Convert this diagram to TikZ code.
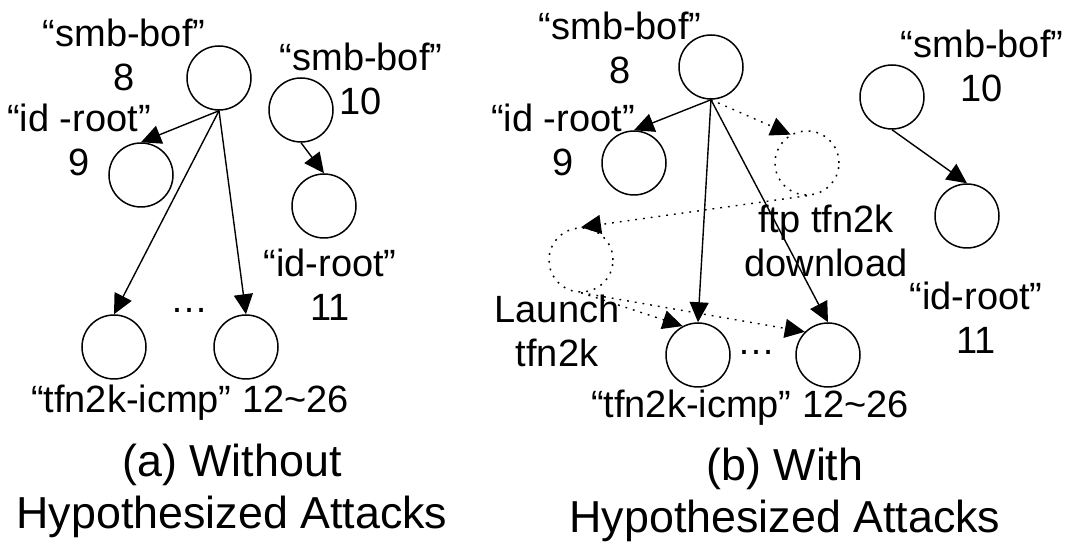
\documentclass[tikz,border=0pt]{standalone}
\usepackage{fontspec}
\setmainfont{Liberation Sans}
\usetikzlibrary{arrows.meta}

\begin{document}
\begin{tikzpicture}[
  x=0.5pt,
  y=-0.5pt
]

  \tikzstyle{alertnode}=[draw,circle,minimum size=32pt,inner sep=0pt,line width=0.75pt]
  \tikzstyle{hypnode}=[alertnode,dash pattern=on 0.9pt off 3pt]
  \tikzstyle{alertlab}=[align=center,inner sep=0pt,font=\fontsize{19}{22}\selectfont]
  \tikzstyle{caplab}=[align=center,inner sep=0pt,font=\fontsize{22.4}{26}\selectfont]
  \tikzstyle{edge}=[draw,-{Triangle[length=10pt,width=9.5pt]},line width=0.7pt]
  \tikzstyle{hypedge}=[edge,dash pattern=on 0.9pt off 3pt]

  \useasboundingbox (0,0) rectangle (1073,549);

  % (a) without hypothesized attacks
  \node[alertnode] (a8)  at (219,78)  {};
  \node[alertnode] (a9)  at (141,175) {};
  \node[alertnode] (a10) at (301,110) {};
  \node[alertnode] (a11) at (324,206) {};
  \node[alertnode] (a12) at (114,347) {};
  \node[alertnode] (a26) at (246,347) {};

  \node[alertlab] (la8)   at (124,55)  {“smb-bof”\\8};
  \node[alertlab] (la9)   at (79,140)  {“id -root”\\9};
  \node[alertlab] (la10)  at (361,79)  {“smb-bof”\\10};
  \node[alertlab] (la11)  at (330,285) {“id-root”\\11};
  \node[alertlab] (ladot) at (189,310) {…};
  \node[alertlab] (la12)  at (190,403) {“tfn2k-icmp” 12\textasciitilde26};
  \node[caplab]   (capa)  at (232,491) {(a) Without\\Hypothesized Attacks};

  \draw[edge] (a8.south)  -- (a9.north);
  \draw[edge] (a8.south)  -- (a12.north);
  \draw[edge] (a8.south)  -- (a26.north);
  \draw[edge] (a10.south) -- (a11.north);

  % (b) with hypothesized attacks
  \node[alertnode] (b8)      at (711,67)  {};
  \node[alertnode] (b9)      at (634,163) {};
  \node[hypnode]   (bftp)    at (807,163) {};
  \node[hypnode]   (blaunch) at (581,260) {};
  \node[alertnode] (b12)     at (698,355) {};
  \node[alertnode] (b26)     at (828,355) {};
  \node[alertnode] (b10)     at (892,97)  {};
  \node[alertnode] (b11)     at (967,216) {};

  \node[alertlab] (lb8)      at (620,48)  {“smb-bof”\\8};
  \node[alertlab] (lb9)      at (563,140) {“id -root”\\9};
  \node[alertlab] (lbftp)    at (826,241) {ftp tfn2k\\download};
  \node[alertlab] (lblaunch) at (557,331) {Launch\\tfn2k};
  \node[alertlab] (lbdot)    at (756,352) {…};
  \node[alertlab] (lb12)     at (750,408) {“tfn2k-icmp” 12\textasciitilde26};
  \node[alertlab] (lb10)     at (982,66)  {“smb-bof”\\10};
  \node[alertlab] (lb11)     at (976,318) {“id-root”\\11};
  \node[caplab]   (capb)     at (785,495) {(b) With\\Hypothesized Attacks};

  \draw[edge]    (b8.south)      -- (b9.north);
  \draw[hypedge] (b8.south)      -- (bftp.120);
  \draw[hypedge] (bftp.south)    -- (blaunch.north);
  \draw[edge]    (b8.south)      -- (b12.north);
  \draw[edge]    (b8.south)      -- (b26.north);
  \draw[hypedge] (blaunch.south) -- (b12.118);
  \draw[hypedge] (blaunch.south) -- (b26.135);
  \draw[edge]    (b10.south)     -- (b11.north);

\end{tikzpicture}
\end{document}
